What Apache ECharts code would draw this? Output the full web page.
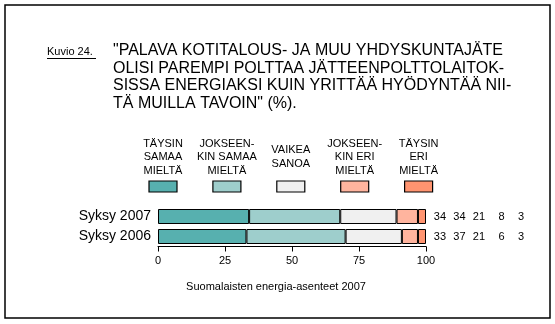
<!DOCTYPE html>
<html>
<head>
<meta charset="utf-8">
<script src="https://cdn.jsdelivr.net/npm/echarts@6/dist/echarts.min.js"></script>
<style>html,body{margin:0;padding:0;background:#fff}#c{width:555px;height:324px}</style>
</head>
<body>
<div id="c"></div>
<script>
const categories = ['Syksy 2007', 'Syksy 2006'];
const seriesNames = ['TÄYSIN\nSAMAA\nMIELTÄ', 'JOKSEEN-\nKIN SAMAA\nMIELTÄ', 'VAIKEA\nSANOA', 'JOKSEEN-\nKIN ERI\nMIELTÄ', 'TÄYSIN\nERI\nMIELTÄ'];
const values2007 = [34, 34, 21, 8, 3];
const values2006 = [33, 37, 21, 6, 3];
const xTicks = [0, 25, 50, 75, 100];
const colors = ['#57B0AF', '#9ECECC', '#F0F0F0', '#FFB49E', '#FF9470'];
const titleLines = ['"PALAVA KOTITALOUS- JA MUU YHDYSKUNTAJÄTE', 'OLISI PAREMPI POLTTAA JÄTTEENPOLTTOLAITOK-', 'SISSA ENERGIAKSI KUIN YRITTÄÄ HYÖDYNTÄÄ NII-', 'TÄ MUILLA TAVOIN" (%).'];
const figLabel = 'Kuvio 24.';
const sourceText = 'Suomalaisten energia-asenteet 2007';

const rowValues = [values2007, values2006];
const FONT = 'Liberation Sans, Arial, sans-serif';

const chart = echarts.init(document.getElementById('c'), null, {renderer: 'canvas'});

const series = seriesNames.map((name, i) => ({
  name: name,
  type: 'bar',
  stack: 'all',
  barWidth: 15,
  data: rowValues.map(r => r[i]),
  itemStyle: {color: colors[i], borderColor: '#000', borderWidth: 1},
  emphasis: {disabled: true},
  silent: true
}));

const legendStart = 163, legendStep = 63.9;
const legendGraphics = [];
seriesNames.forEach((name, i) => {
  const cx = legendStart + i * legendStep;
  legendGraphics.push({
    type: 'text', x: cx, y: 157,
    style: {text: name, font: '11px ' + FONT, fill: '#000', align: 'center', verticalAlign: 'middle', lineHeight: 13.5}
  });
  legendGraphics.push({
    type: 'rect', shape: {x: cx - 14, y: 181, width: 28, height: 11},
    style: {fill: colors[i], stroke: '#000', lineWidth: 1.2}
  });
});

const rich = {};
const colW = [16, 19.5, 19.5, 19.5, 19.5];
colW.forEach((w, i) => { rich['c' + i] = {width: w, align: 'right', fontSize: 11, fontFamily: FONT, color: '#000'}; });

chart.setOption({
  animation: false,
  backgroundColor: '#fff',
  grid: {left: 158, width: 268, top: 206.5, height: 40, containLabel: false},
  xAxis: {
    type: 'value', min: 0, max: 100, interval: 25,
    axisLine: {show: true, lineStyle: {color: '#000', width: 1}},
    axisTick: {show: true, length: 5, lineStyle: {color: '#000', width: 1}},
    axisLabel: {fontSize: 11, fontFamily: FONT, color: '#000', margin: 9,
      formatter: v => xTicks.includes(v) ? String(v) : ''},
    splitLine: {show: false}
  },
  yAxis: [{
    type: 'category', data: categories, inverse: true,
    axisLine: {show: false}, axisTick: {show: false},
    axisLabel: {fontSize: 14, fontFamily: FONT, color: '#000', margin: 7}
  }, {
    type: 'category', data: categories, inverse: true, position: 'right',
    axisLine: {show: false}, axisTick: {show: false},
    axisLabel: {margin: 4, align: 'left',
      formatter: (v, idx) => rowValues[idx].map((n, j) => '{c' + j + '|' + n + '}').join(''),
      rich: rich}
  }],
  series: series,
  graphic: [
    {type: 'rect', shape: {x: 5, y: 5, width: 545, height: 313}, style: {fill: 'none', stroke: '#000', lineWidth: 1.5}},
    {type: 'text', x: 47, y: 52, style: {text: figLabel, font: '11px ' + FONT, fill: '#000', verticalAlign: 'middle'}},
    {type: 'line', shape: {x1: 47, y1: 58.5, x2: 96, y2: 58.5}, style: {stroke: '#000', lineWidth: 1}},
    {type: 'text', x: 113, y: 42, style: {text: titleLines.join('\n'), font: '16px ' + FONT, fill: '#000', verticalAlign: 'top', lineHeight: 17.5}},
    {type: 'text', x: 276, y: 287, style: {text: sourceText, font: '11px ' + FONT, fill: '#000', align: 'center', verticalAlign: 'middle'}}
  ].concat(legendGraphics)
});
</script>
</body>
</html>
